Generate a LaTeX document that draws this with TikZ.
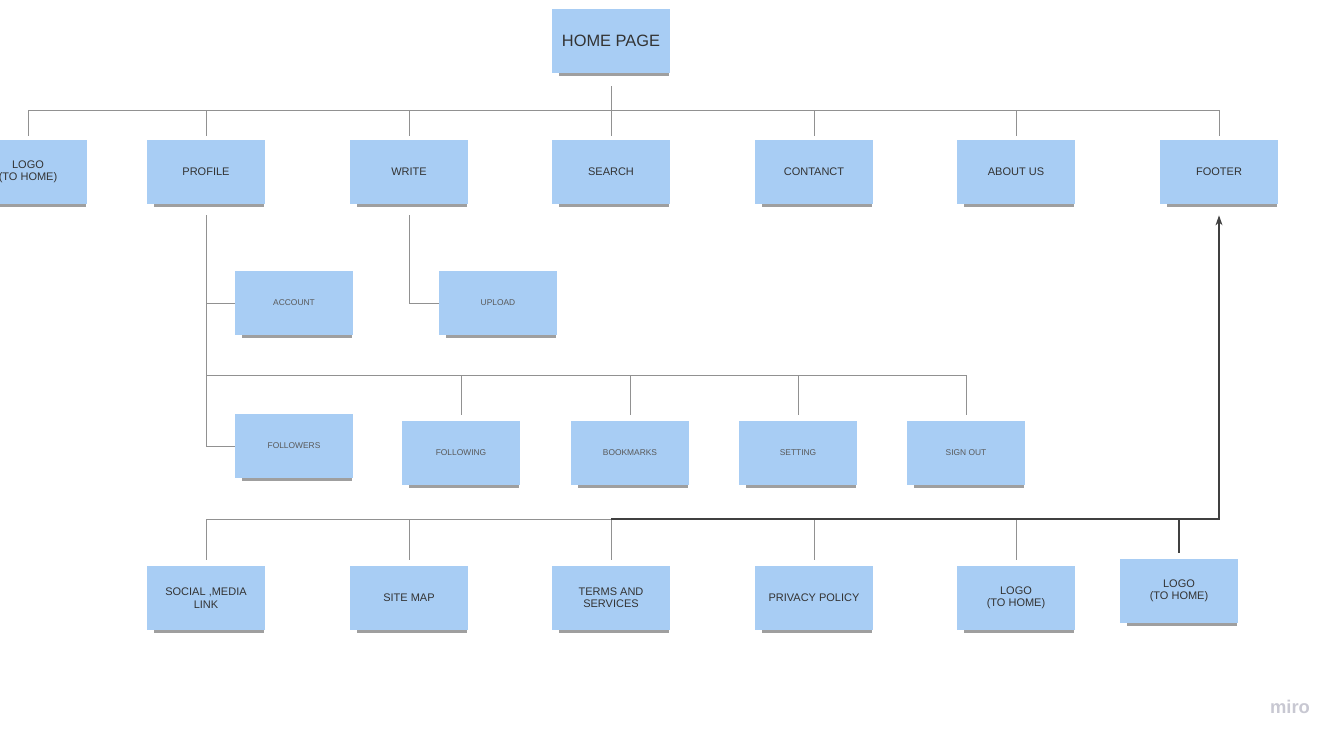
\documentclass[tikz,border=0pt]{standalone}
\usepackage{fontspec}
\setmainfont{Liberation Sans}
\usepackage{xcolor}
\usetikzlibrary{shadows,arrows.meta}
\definecolor{notefill}{RGB}{168,205,244}
\definecolor{wire}{RGB}{145,145,145}

\begin{document}
\begin{tikzpicture}[x=0.5pt,y=-0.5pt,
  note/.style={fill=notefill,minimum width=59pt,minimum height=32pt,inner sep=1pt,align=center,text=black!80,
    drop shadow={shadow xshift=1.5pt,shadow yshift=-3pt,shadow scale=0.93,opacity=0.5,fill=black!75}},
  big/.style={font=\fontsize{8.2}{9.5}\selectfont},
  mid/.style={font=\fontsize{5.5}{6.2}\selectfont},
  small/.style={font=\fontsize{4.2}{5}\selectfont,text=black!65},
  link/.style={draw=wire,line width=0.5pt},
  arrowline/.style={draw=black!75,line width=0.55pt}]
\useasboundingbox (0,0) rectangle (1342,744);
\node at (611,41) (H) [note,big] {HOME PAGE};
\node at (28,172) (L1) [note,mid] {LOGO\\(TO HOME)};
\node at (206,172) (P) [note,mid] {PROFILE};
\node at (409,172) (W) [note,mid] {WRITE};
\node at (611,172) (S) [note,mid] {SEARCH};
\node at (814,172) (C) [note,mid] {CONTANCT};
\node at (1016,172) (AU) [note,mid] {ABOUT US};
\node at (1219,172) (Ft) [note,mid] {FOOTER};
\node at (294,303) (Ac) [note,small] {ACCOUNT};
\node at (498,303) (U) [note,small] {UPLOAD};
\node at (294,446) (Fw) [note,small] {FOLLOWERS};
\node at (461,453) (Fg) [note,small] {FOLLOWING};
\node at (630,453) (B) [note,small] {BOOKMARKS};
\node at (798,453) (St) [note,small] {SETTING};
\node at (966,453) (SO) [note,small] {SIGN OUT};
\node at (206,598) (SM) [note,mid] {SOCIAL ,MEDIA\\LINK};
\node at (409,598) (Mp) [note,mid] {SITE MAP};
\node at (611,598) (T) [note,mid] {TERMS AND\\SERVICES};
\node at (814,598) (PP) [note,mid] {PRIVACY POLICY};
\node at (1016,598) (L2) [note,mid] {LOGO\\(TO HOME)};
\node at (1179,591) (L3) [note,mid] {LOGO\\(TO HOME)};
\node at (1290,707) (M) [font=\bfseries\fontsize{9.2}{10}\selectfont,text={rgb,255:red,200;green,200;blue,210}] {miro};
\coordinate (b1) at (611,110);
\coordinate (b2) at (206,375);
\coordinate (b3) at (611,519);
\coordinate (b4) at (1219,519);
\draw[link] (H.south) ++(0,13) -- (b1);
\draw[link] (L1.north) ++(0,-4) |- (b1);
\draw[link] (P.north) ++(0,-4) |- (b1);
\draw[link] (W.north) ++(0,-4) |- (b1);
\draw[link] (S.north) ++(0,-4) -- (b1);
\draw[link] (C.north) ++(0,-4) |- (b1);
\draw[link] (AU.north) ++(0,-4) |- (b1);
\draw[link] (Ft.north) ++(0,-4) |- (b1);
\draw[link] (P.south) ++(0,11) |- (Ac.west);
\draw[link] (P.south) ++(0,11) |- (Fw.west);
\draw[link] (W.south) ++(0,11) |- (U.west);
\draw[link] (Fg.north) ++(0,-6) |- (b2);
\draw[link] (B.north) ++(0,-6) |- (b2);
\draw[link] (St.north) ++(0,-6) |- (b2);
\draw[link] (SO.north) ++(0,-6) |- (b2);
\draw[link] (SM.north) ++(0,-6) |- (b3);
\draw[link] (Mp.north) ++(0,-6) |- (b3);
\draw[link] (T.north) ++(0,-6) -- (b3);
\draw[link] (PP.north) ++(0,-6) |- (b3);
\draw[link] (L2.north) ++(0,-6) |- (b3);
\draw[arrowline] (b3) -- (b4);
\draw[arrowline,-{Stealth[length=5pt,width=3.5pt]},shorten >=5.5pt] (L3.north) ++(0,-6) |- (b4) -- (Ft.south);
\end{tikzpicture}
\end{document}
